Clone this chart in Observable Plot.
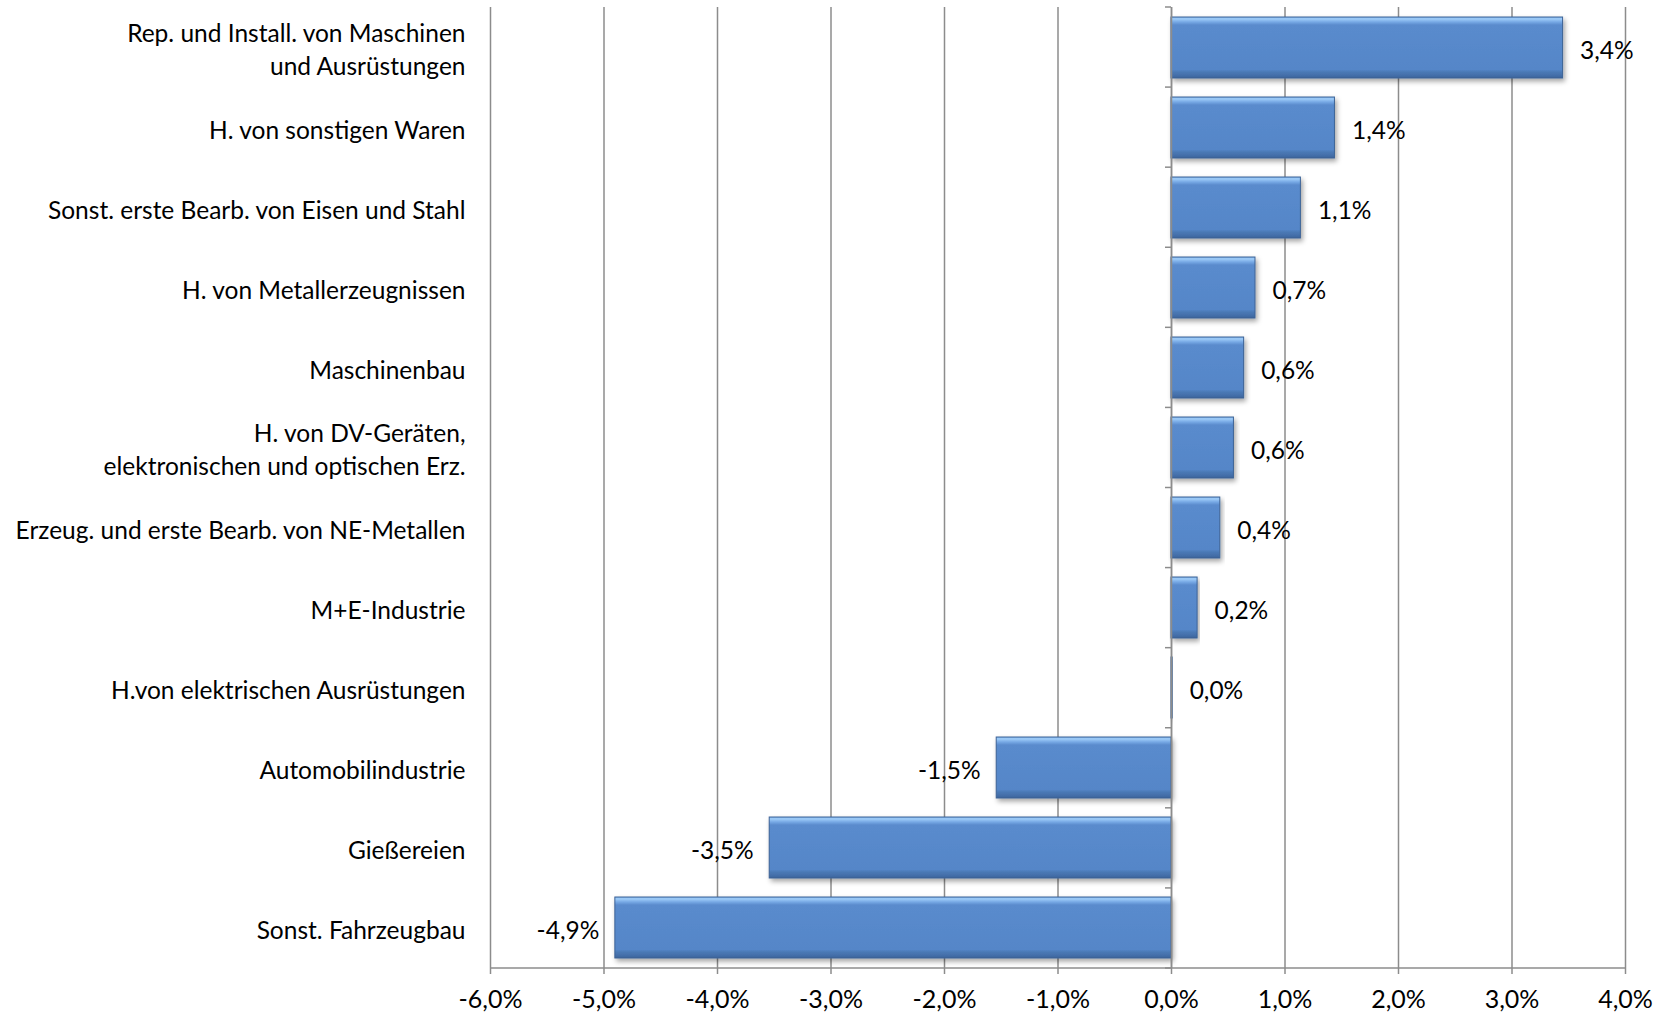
<!DOCTYPE html>
<html>
<head>
<meta charset="utf-8">
<script src="https://cdn.jsdelivr.net/npm/d3@7"></script>
<script src="https://cdn.jsdelivr.net/npm/@observablehq/plot@0.6"></script>
<style>
  html, body { margin: 0; padding: 0; background: #fff; }
  #chart svg { display: block; }
</style>
</head>
<body>
<div id="chart"></div>
<script>
const categories = [
  "Rep. und Install. von Maschinen\nund Ausrüstungen",
  "H. von sonstigen Waren",
  "Sonst. erste Bearb. von Eisen und Stahl",
  "H. von Metallerzeugnissen",
  "Maschinenbau",
  "H. von DV-Geräten,\nelektronischen und optischen Erz.",
  "Erzeug. und erste Bearb. von NE-Metallen",
  "M+E-Industrie",
  "H.von elektrischen Ausrüstungen",
  "Automobilindustrie",
  "Gießereien",
  "Sonst. Fahrzeugbau"
];
const values = [3.45, 1.44, 1.14, 0.74, 0.64, 0.55, 0.43, 0.23, 0.01, -1.54, -3.54, -4.9];
const valueLabels = ["3,4%", "1,4%", "1,1%", "0,7%", "0,6%", "0,6%", "0,4%", "0,2%", "0,0%", "-1,5%", "-3,5%", "-4,9%"];
const xTicks = [-6, -5, -4, -3, -2, -1, 0, 1, 2, 3, 4];
const xTickLabels = ["-6,0%", "-5,0%", "-4,0%", "-3,0%", "-2,0%", "-1,0%", "0,0%", "1,0%", "2,0%", "3,0%", "4,0%"];

const data = categories.map((c, i) => ({cat: c, value: values[i], label: valueLabels[i]}));
const gridColor = "#8c8c8c";
const font = "Lato, 'Open Sans', sans-serif";

const plot = Plot.plot({
  width: 1659,
  height: 1020,
  marginLeft: 490,
  marginRight: 34,
  marginTop: 7,
  marginBottom: 52,
  style: {fontFamily: font, fontSize: "24.5px", color: "#000", background: "#fff"},
  x: {domain: [-6, 4], label: null},
  y: {domain: categories, paddingInner: 0.24, paddingOuter: 0.12, label: null},
  marks: [
    Plot.ruleX(xTicks, {stroke: gridColor, strokeWidth: 1.5}),
    Plot.barX(data, {x: "value", y: "cat", fill: "url(#barGrad)", stroke: "#3d6396", strokeWidth: 1, filter: d => d.value !== 0, className: "bars"}),
    Plot.ruleX([0], {stroke: gridColor, strokeWidth: 1.5}),
    Plot.text(data.filter(d => d.value >= 0), {x: "value", y: "cat", text: "label", textAnchor: "start", dx: 17, dy: 3, fontSize: 24.5, fill: "#000"}),
    Plot.text(data.filter(d => d.value < 0), {x: "value", y: "cat", text: "label", textAnchor: "end", dx: -16, dy: 3, fontSize: 24.5, fill: "#000"}),
    Plot.axisX({ticks: xTicks, tickFormat: (d) => xTickLabels[xTicks.indexOf(d)], tickSize: 6, tickPadding: 16, stroke: gridColor, strokeWidth: 1.5, label: null, fontSize: 25}),
    Plot.axisY({tickSize: 0, tickPadding: 25, label: null, fontSize: 24.5, lineHeight: 1.35, className: "ylabels"})
  ]
});

const svg = d3.select(plot);
const defs = svg.insert("defs", ":first-child");
const g = defs.append("linearGradient").attr("id", "barGrad").attr("x1", 0).attr("y1", 0).attr("x2", 0).attr("y2", 1);
[[0, "#7eb0ea"], [0.03, "#a0cdf8"], [0.08, "#78aae6"], [0.13, "#5a8bcd"], [0.86, "#5586c8"], [0.9, "#4b79b6"], [0.97, "#426ca6"], [1, "#3b6195"]]
  .forEach(([o, c]) => g.append("stop").attr("offset", o).attr("stop-color", c));
const f = defs.append("filter").attr("id", "shadow").attr("x", "-5%").attr("y", "-20%").attr("width", "115%").attr("height", "160%");
f.append("feDropShadow").attr("dx", 2).attr("dy", 3).attr("stdDeviation", 2.5).attr("flood-color", "#000").attr("flood-opacity", 0.35);
svg.selectAll(".bars rect").attr("filter", "url(#shadow)");

// axis lines and category boundary ticks
const xs = plot.scale("x"), ys = plot.scale("y");
const [x0, x1] = [xs.apply(-6), xs.apply(4)];
const yTop = ys.range[0], yBot = ys.range[1];
const axisG = svg.append("g").attr("stroke", gridColor).attr("stroke-width", 1.5);
axisG.append("line").attr("x1", x0).attr("x2", x1).attr("y1", yBot).attr("y2", yBot);
const step = (yBot - yTop) / categories.length;
for (let i = 0; i <= categories.length; i++) {
  const y = yTop + i * step;
  axisG.append("line").attr("x1", xs.apply(0) - 6).attr("x2", xs.apply(0)).attr("y1", y).attr("y2", y);
}

// center-align multi-line category labels within their block
svg.selectAll(".ylabels text").each(function() {
  const tspans = Array.from(this.querySelectorAll("tspan"));
  if (tspans.length > 1) {
    const widths = tspans.map(t => t.getComputedTextLength());
    const maxW = Math.max(...widths);
    tspans.forEach((t, i) => {
      const cur = parseFloat(t.getAttribute("x") || "0");
      t.setAttribute("x", cur - (maxW - widths[i]) / 2);
    });
  }
});

document.getElementById("chart").appendChild(plot);
</script>
</body>
</html>
